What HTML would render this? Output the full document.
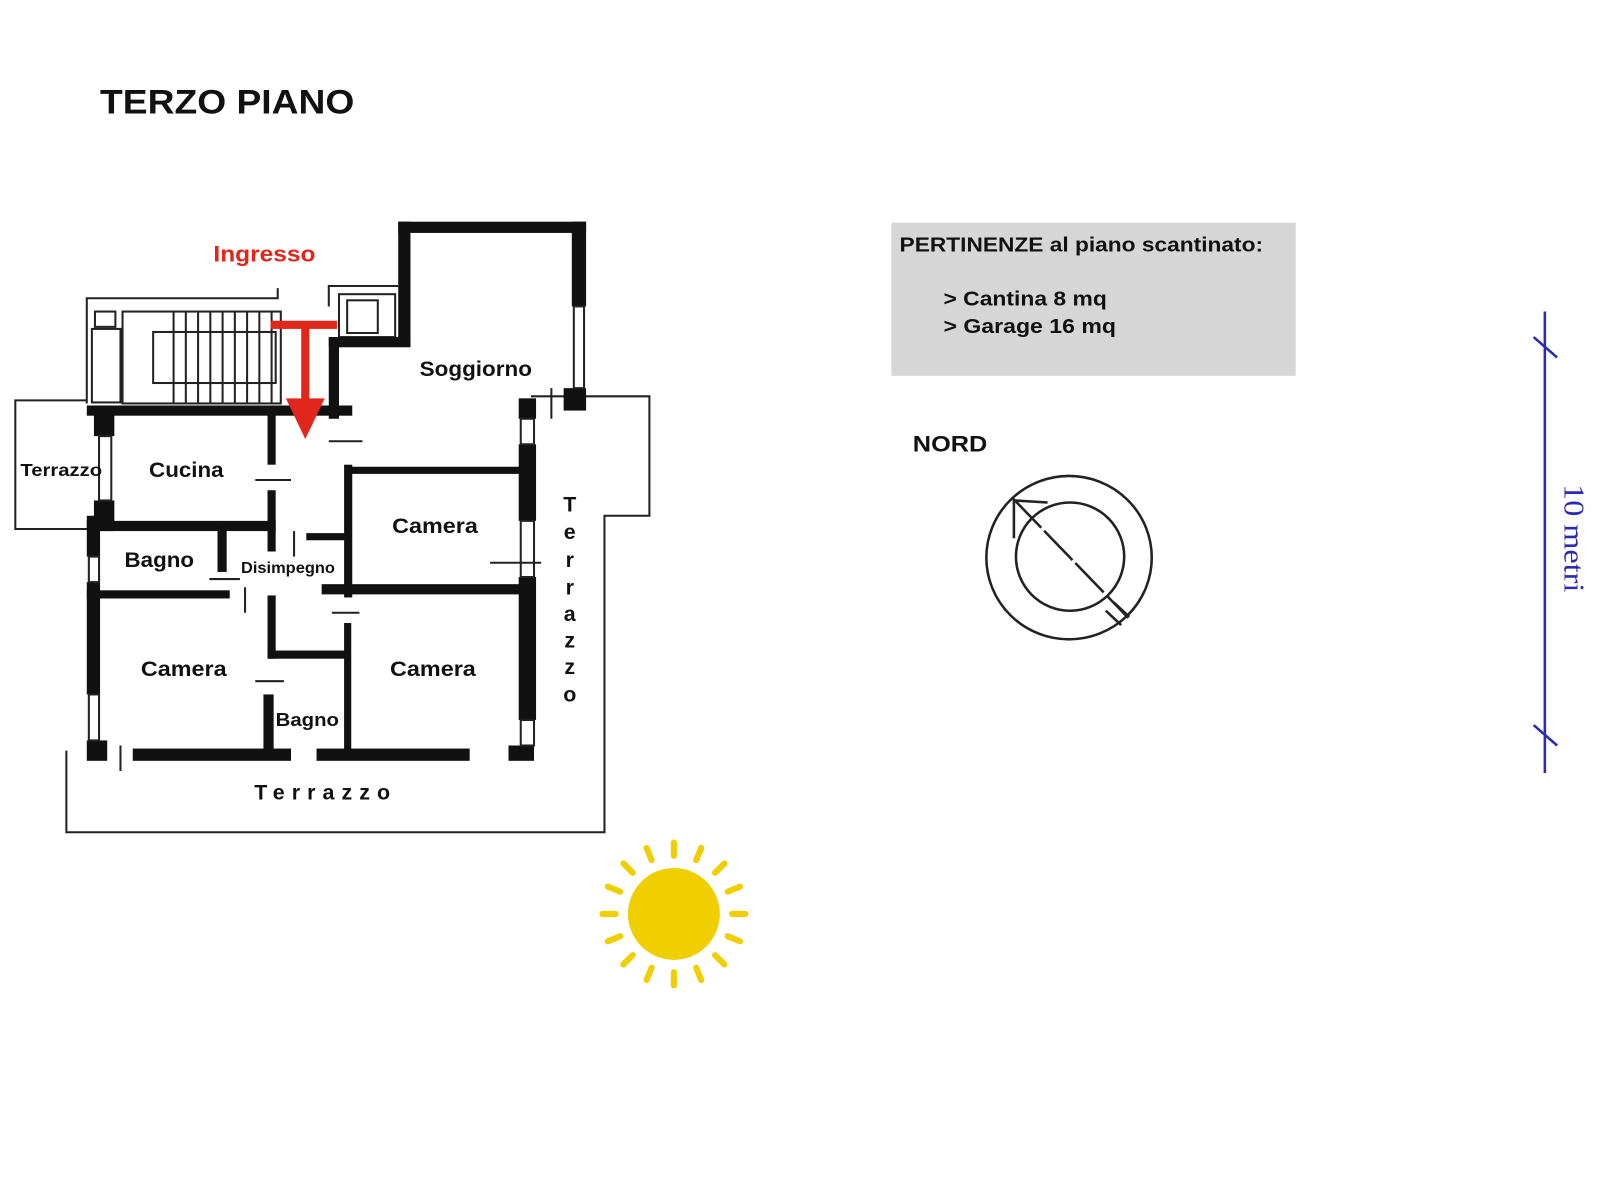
<!DOCTYPE html>
<html><head><meta charset="utf-8"><style>
html,body{margin:0;padding:0;background:#fff;}
svg{display:block}
.b{font-family:"Liberation Sans",sans-serif;font-weight:bold;}
</style></head><body>
<svg width="1600" height="1200" viewBox="0 0 1567 1175" xmlns="http://www.w3.org/2000/svg">
<rect width="1567" height="1175" fill="#fff"/>
<text class="b" x="98" y="111" font-size="34" fill="#111" textLength="249" lengthAdjust="spacingAndGlyphs">TERZO PIANO</text>

<g fill="none" stroke="#222" stroke-width="2">
<polyline points="520,388 636,388 636,505 592,505 592,815 65,815 65,735"/>
<polyline points="85,392 15,392 15,518 92,518"/>
<polyline points="85,395 85,292 272,292 272,282"/>
<rect x="120" y="305" width="155" height="90"/>
<rect x="150" y="325" width="120" height="50"/>
<rect x="93" y="305" width="20" height="15"/>
<rect x="90" y="322" width="28" height="72"/>
<polyline points="322,300 322,280 390,280"/>
<rect x="332" y="288" width="55" height="42"/>
<rect x="340" y="294" width="30" height="32"/>
</g>
<g stroke="#222" stroke-width="2">
<line x1="170" y1="305" x2="170" y2="395"/><line x1="182" y1="305" x2="182" y2="395"/>
<line x1="194" y1="305" x2="194" y2="395"/><line x1="206" y1="305" x2="206" y2="395"/>
<line x1="218" y1="305" x2="218" y2="395"/><line x1="230" y1="305" x2="230" y2="395"/>
<line x1="242" y1="305" x2="242" y2="395"/><line x1="254" y1="305" x2="254" y2="395"/>
<line x1="266" y1="305" x2="266" y2="395"/>
</g>

<g fill="#111">
<rect x="390" y="217" width="184" height="11"/>
<rect x="390" y="217" width="12" height="122"/>
<rect x="560" y="217" width="14" height="83"/>
<rect x="552" y="380" width="22" height="22"/>
<rect x="322" y="330" width="80" height="10"/>
<rect x="322" y="330" width="10" height="80"/>
<rect x="85" y="397" width="260" height="10"/>
<rect x="92" y="397" width="20" height="30"/>
<rect x="92" y="490" width="20" height="30"/>
<rect x="85" y="510" width="185" height="10"/>
<rect x="85" y="505" width="13" height="40"/>
<rect x="85" y="570" width="13" height="110"/>
<rect x="85" y="725" width="20" height="20"/>
<rect x="130" y="733" width="155" height="12"/>
<rect x="310" y="733" width="150" height="12"/>
<rect x="498" y="730" width="25" height="15"/>
<rect x="508" y="390" width="17" height="20"/>
<rect x="508" y="435" width="17" height="75"/>
<rect x="508" y="565" width="17" height="140"/>
<rect x="340" y="457" width="170" height="7"/>
<rect x="337" y="455" width="8" height="130"/>
<rect x="315" y="572" width="195" height="10"/>
<rect x="337" y="610" width="7" height="130"/>
<rect x="262" y="637" width="78" height="8"/>
<rect x="262" y="583" width="8" height="62"/>
<rect x="258" y="680" width="10" height="60"/>
<rect x="262" y="405" width="8" height="50"/>
<rect x="262" y="480" width="8" height="60"/>
<rect x="300" y="522" width="40" height="7"/>
<rect x="85" y="578" width="140" height="8"/>
<rect x="213" y="515" width="9" height="45"/>
</g>
<g stroke="#222" stroke-width="2" fill="none">
<rect x="562" y="300" width="10" height="80"/>
<rect x="87" y="545" width="10" height="25"/>
<rect x="87" y="680" width="10" height="45"/>
<rect x="97" y="427" width="12" height="63"/>
<rect x="510" y="410" width="13" height="25"/>
<rect x="510" y="510" width="13" height="55"/>
<rect x="510" y="705" width="13" height="25"/>
<line x1="250" y1="470" x2="285" y2="470"/><line x1="322" y1="432" x2="355" y2="432"/>
<line x1="205" y1="567" x2="235" y2="567"/><line x1="325" y1="600" x2="352" y2="600"/>
<line x1="250" y1="667" x2="278" y2="667"/><line x1="480" y1="551" x2="530" y2="551"/>
<line x1="240" y1="575" x2="240" y2="600"/><line x1="288" y1="520" x2="288" y2="545"/>
<line x1="118" y1="730" x2="118" y2="755"/><line x1="540" y1="380" x2="540" y2="410"/>
</g>

<g fill="#e1261c">
<rect x="265" y="314" width="65" height="8"/>
<rect x="295" y="318" width="8" height="74"/>
<polygon points="280,390 318,390 299,430"/>
</g>
<text class="b" x="209" y="256" font-size="22" fill="#e1261c" textLength="100" lengthAdjust="spacingAndGlyphs">Ingresso</text>

<g class="b" font-size="21" fill="#111">
<text x="411" y="368" textLength="110" lengthAdjust="spacingAndGlyphs">Soggiorno</text>
<text x="146" y="467" textLength="73" lengthAdjust="spacingAndGlyphs">Cucina</text>
<text x="20" y="466" font-size="17" textLength="80" lengthAdjust="spacingAndGlyphs">Terrazzo</text>
<text x="384" y="522" textLength="84" lengthAdjust="spacingAndGlyphs">Camera</text>
<text x="122" y="555" textLength="68" lengthAdjust="spacingAndGlyphs">Bagno</text>
<text x="236" y="561" font-size="15" textLength="92" lengthAdjust="spacingAndGlyphs">Disimpegno</text>
<text x="138" y="662" textLength="84" lengthAdjust="spacingAndGlyphs">Camera</text>
<text x="382" y="662" textLength="84" lengthAdjust="spacingAndGlyphs">Camera</text>
<text x="270" y="711" font-size="18" textLength="62" lengthAdjust="spacingAndGlyphs">Bagno</text>
<text x="249" y="783" letter-spacing="5" textLength="138">Terrazzo</text>
<g text-anchor="middle">
<text x="558" y="501">T</text><text x="558" y="528">e</text><text x="558" y="555">r</text>
<text x="558" y="582">r</text><text x="558" y="608">a</text><text x="558" y="634">z</text>
<text x="558" y="660">z</text><text x="558" y="687">o</text>
</g>
</g>

<rect x="873" y="218" width="396" height="150" fill="#d6d6d6"/>
<g class="b" font-size="20" fill="#111">
<text x="881" y="246" textLength="356" lengthAdjust="spacingAndGlyphs">PERTINENZE al piano scantinato:</text>
<text x="924" y="299" textLength="160" lengthAdjust="spacingAndGlyphs">&gt; Cantina 8 mq</text>
<text x="924" y="326" textLength="169" lengthAdjust="spacingAndGlyphs">&gt; Garage 16 mq</text>
<text x="894" y="442" font-size="22" textLength="73" lengthAdjust="spacingAndGlyphs">NORD</text>
</g>

<g fill="none" stroke="#222" stroke-width="2.5">
<ellipse cx="1047" cy="546" rx="81" ry="80"/>
<circle cx="1048" cy="545" r="53"/>
<line x1="992" y1="488" x2="1105" y2="605" stroke-dasharray="40,4"/>
<polyline points="993,527 993,490 1026,492"/>
<line x1="1083" y1="598" x2="1098" y2="612"/>
<line x1="1091" y1="590" x2="1106" y2="604"/>
</g>

<g stroke="#2b2bb0" stroke-width="2.5">
<line x1="1513" y1="305" x2="1513" y2="757"/>
<line x1="1502" y1="330" x2="1525" y2="350"/>
<line x1="1502" y1="710" x2="1525" y2="730"/>
</g>
<text transform="translate(1532,474) rotate(90)" style="font-family:'Liberation Serif',serif;font-weight:normal" font-size="28" fill="#2b2bb0" textLength="106" lengthAdjust="spacingAndGlyphs">10 metri</text>

<circle cx="660" cy="895" r="45" fill="#efcf00"/>
<g stroke="#efcf00" stroke-width="6" stroke-linecap="round" transform="translate(660,895)">
<line x1="0" y1="-57" x2="0" y2="-70"/><line x1="0" y1="57" x2="0" y2="70"/>
<line x1="-57" y1="0" x2="-70" y2="0"/><line x1="57" y1="0" x2="70" y2="0"/>
<g transform="rotate(22.5)"><line x1="0" y1="-57" x2="0" y2="-70"/><line x1="0" y1="57" x2="0" y2="70"/><line x1="-57" y1="0" x2="-70" y2="0"/><line x1="57" y1="0" x2="70" y2="0"/></g>
<g transform="rotate(45)"><line x1="0" y1="-57" x2="0" y2="-70"/><line x1="0" y1="57" x2="0" y2="70"/><line x1="-57" y1="0" x2="-70" y2="0"/><line x1="57" y1="0" x2="70" y2="0"/></g>
<g transform="rotate(67.5)"><line x1="0" y1="-57" x2="0" y2="-70"/><line x1="0" y1="57" x2="0" y2="70"/><line x1="-57" y1="0" x2="-70" y2="0"/><line x1="57" y1="0" x2="70" y2="0"/></g>
</g>
</svg>
</body></html>
